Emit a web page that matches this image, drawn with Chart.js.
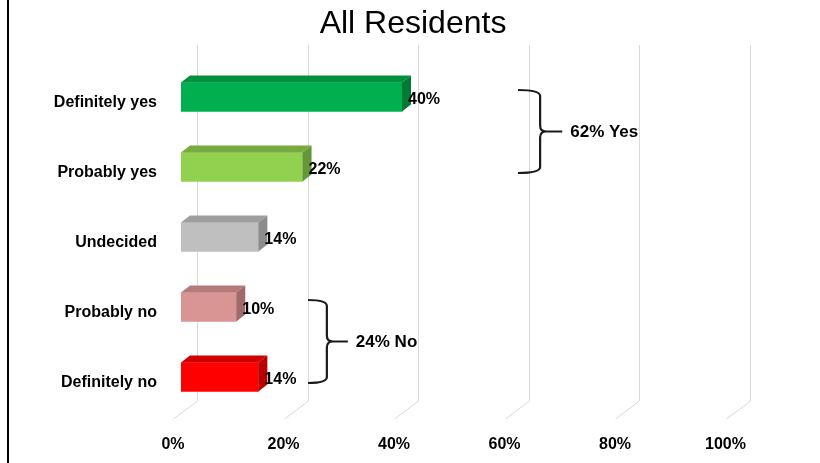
<!DOCTYPE html>
<html>
<head>
<meta charset="utf-8">
<script src="https://cdn.jsdelivr.net/npm/chart.js@4/dist/chart.umd.min.js"></script>
<style>
  body { margin: 0; background: #fff; }
  #wrap { width: 820px; height: 463px; }
</style>
</head>
<body>
<div id="wrap"><canvas id="chart" width="820" height="463"></canvas></div>
<script>
const categories = ['Definitely yes', 'Probably yes', 'Undecided', 'Probably no', 'Definitely no'];
const shares = [0.40, 0.22, 0.14, 0.10, 0.14];
const frontColors = ['#00B050', '#92D050', '#BFBFBF', '#D99594', '#FF0000'];
const topColors = ['#00903F', '#77AA3F', '#9E9E9E', '#B47B7A', '#D00000'];
const sideColors = ['#007A35', '#66953A', '#8C8C8C', '#A06A69', '#B80000'];
const tickValues = [0, 0.2, 0.4, 0.6, 0.8, 1];
// brace groups: first category, last category, label
const groups = [
  { from: 0, to: 1, left: 0.61, stem: 0.65, tip: 0.69, text: '62% Yes' },
  { from: 3, to: 4, left: 0.23, stem: 0.264, tip: 0.302, text: '24% No' }
];

const DX = 9, DY = -7;   // bar depth
const font = 'Liberation Sans, Arial, sans-serif';

const pct = v => Math.round(v * 100) + '%';

// left border, title, back wall + floor lines
const wallPlugin = {
  id: 'wall',
  beforeDraw(chart) {
    const ctx = chart.ctx;
    ctx.save();
    ctx.fillStyle = '#000';
    ctx.fillRect(7, 0, 2, chart.height);
    ctx.font = '32px ' + font;
    ctx.textAlign = 'center';
    ctx.textBaseline = 'alphabetic';
    ctx.fillText('All Residents', 413, 33);
    ctx.restore();
  },
  beforeDatasetsDraw(chart) {
    const ctx = chart.ctx;
    const xs = chart.scales.x;
    ctx.save();
    ctx.strokeStyle = '#D9D9D9';
    ctx.lineWidth = 1;
    tickValues.forEach(v => {
      const px = Math.round(xs.getPixelForValue(v)) + 0.5;
      ctx.beginPath();
      ctx.moveTo(px + 16, 45);
      ctx.lineTo(px + 16, 401);
      ctx.lineTo(px - 8, 419);
      ctx.stroke();
    });
    ctx.restore();
  }
};

// top / side faces, value labels, braces
const barPlugin = {
  id: 'bars3d',
  afterDatasetsDraw(chart) {
    const ctx = chart.ctx;
    const meta = chart.getDatasetMeta(0);
    ctx.save();
    meta.data.forEach((bar, i) => {
      const top = bar.y - bar.height / 2;
      const bottom = bar.y + bar.height / 2;
      ctx.fillStyle = topColors[i];
      ctx.beginPath();
      ctx.moveTo(bar.base, top);
      ctx.lineTo(bar.x, top);
      ctx.lineTo(bar.x + DX, top + DY);
      ctx.lineTo(bar.base + DX, top + DY);
      ctx.closePath();
      ctx.fill();
      ctx.fillStyle = sideColors[i];
      ctx.beginPath();
      ctx.moveTo(bar.x, top);
      ctx.lineTo(bar.x + DX, top + DY);
      ctx.lineTo(bar.x + DX, bottom + DY);
      ctx.lineTo(bar.x, bottom);
      ctx.closePath();
      ctx.fill();

      ctx.fillStyle = '#000';
      ctx.font = 'bold 16px ' + font;
      ctx.textAlign = 'left';
      ctx.textBaseline = 'middle';
      ctx.fillText(pct(shares[i]), bar.x + 6, bar.y + 3);
    });

    const xs = chart.scales.x, ys = chart.scales.y;
    ctx.strokeStyle = '#1a1a1a';
    ctx.lineWidth = 2.2;
    groups.forEach(g => {
      const t = ys.getPixelForValue(g.from) - 7;
      const b = ys.getPixelForValue(g.to) + 6;
      const m = (t + b) / 2;
      const x0 = xs.getPixelForValue(g.left);
      const xv = xs.getPixelForValue(g.stem);
      const xt = xs.getPixelForValue(g.tip);
      const r = 6;
      ctx.beginPath();
      ctx.moveTo(x0, t);
      ctx.quadraticCurveTo(xv, t, xv, t + r);
      ctx.lineTo(xv, m - r);
      ctx.quadraticCurveTo(xv, m, xv + r, m);
      ctx.lineTo(xt, m);
      ctx.moveTo(xv + r, m);
      ctx.quadraticCurveTo(xv, m, xv, m + r);
      ctx.lineTo(xv, b - r);
      ctx.quadraticCurveTo(xv, b, x0, b);
      ctx.stroke();
      ctx.fillStyle = '#000';
      ctx.font = 'bold 17px ' + font;
      ctx.textAlign = 'left';
      ctx.textBaseline = 'middle';
      ctx.fillText(g.text, xt + 8, m + 1);
    });
    ctx.restore();
  }
};

new Chart(document.getElementById('chart'), {
  type: 'bar',
  data: {
    labels: categories,
    datasets: [{
      data: shares,
      backgroundColor: frontColors,
      borderWidth: 0,
      barThickness: 29
    }]
  },
  options: {
    indexAxis: 'y',
    responsive: false,
    animation: false,
    layout: { padding: { top: 62, right: 86.5, bottom: 0, left: 0 } },
    plugins: {
      legend: { display: false },
      tooltip: { enabled: false }
    },
    scales: {
      x: {
        min: 0,
        max: 1,
        grid: { display: false },
        border: { display: false },
        afterBuildTicks: scale => { scale.ticks = tickValues.map(v => ({ value: v })); },
        afterFit: scale => { scale.height = 51; },
        ticks: {
          callback: v => pct(v),
          color: '#000',
          font: { family: font, size: 16, weight: 'bold' },
          padding: 15,
          labelOffset: -8,
          maxRotation: 0
        }
      },
      y: {
        grid: { display: false },
        border: { display: false },
        afterFit: scale => { scale.width = 181; },
        ticks: {
          color: '#000',
          font: { family: font, size: 16, weight: 'bold' },
          padding: 16,
          labelOffset: 6
        }
      }
    }
  },
  plugins: [wallPlugin, barPlugin]
});
</script>
</body>
</html>
